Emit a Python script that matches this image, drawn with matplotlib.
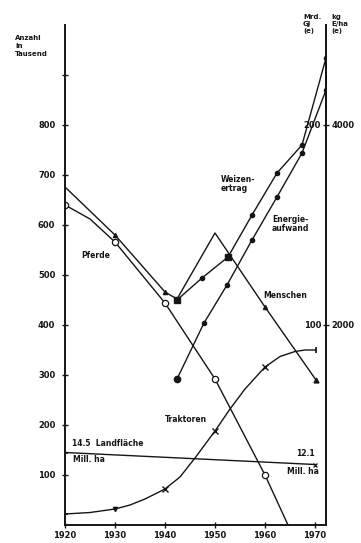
import matplotlib
matplotlib.use('Agg')
import matplotlib.pyplot as plt

# values in left-axis units (Anzahl in Tausend); right scales share the same grid
pferde_x = [1920, 1925, 1930, 1940, 1950, 1960, 1964.6]
pferde_y = [640, 612, 566, 444, 292, 100, 0]

menschen_x = [1920, 1930, 1940, 1942.4, 1950, 1960, 1970.2]
menschen_y = [676, 580, 466, 452, 584, 436, 290]

weizen_x = [1942.4, 1947.4, 1952.6, 1957.4, 1962.4, 1967.4, 1972.2]
weizen_y = [450, 494, 536, 620, 704, 760, 934]

energie_x = [1942.4, 1947.8, 1952.4, 1957.4, 1962.4, 1967.4, 1972.2]
energie_y = [292, 404, 480, 570, 656, 744, 870]

trakt_x = [1920, 1925, 1930, 1933, 1936, 1940, 1943, 1946, 1950, 1953,
           1956, 1960, 1963, 1966, 1968, 1970.2]
trakt_y = [22, 25, 32, 40, 52, 72, 96, 134, 188, 232,
           272, 316, 337, 347, 350, 350]
trakt_marks = [1940, 1950, 1960]

land_x = [1920, 1970]
land_y = [145, 121]   # 14.5 -> 12.1 Mill. ha

years = [1920, 1930, 1940, 1950, 1960, 1970]
left_ticks = [100, 200, 300, 400, 500, 600, 700, 800, 900]
left_labels = ['100', '200', '300', '400', '500', '600', '700', '800', '']

ink = '#151515'
fs = 5.5

fig = plt.figure(figsize=(3.61, 5.43), dpi=100)
ax = fig.add_axes([65 / 361, 18 / 543, 261 / 361, 500 / 543])
ax.set_xlim(1920, 1972.2)
ax.set_ylim(0, 1000)

ax.spines['top'].set_visible(False)
for side in ['left', 'right', 'bottom']:
    ax.spines[side].set_linewidth(1.4)
    ax.spines[side].set_color(ink)

ax.set_xticks(years)
ax.set_xticklabels(['1920', '1930', '1940', '1950', '1960', '1970'])
ax.set_yticks(left_ticks)
ax.set_yticklabels(left_labels)
ax.tick_params(axis='x', direction='inout', length=4, width=1, colors=ink,
               labelsize=fs + 0.5, pad=2)
ax.tick_params(axis='y', direction='inout', length=4, width=1, colors=ink,
               labelsize=fs + 0.5, pad=5)
for lab in ax.get_xticklabels() + ax.get_yticklabels():
    lab.set_fontweight('bold')

# right axis: two scales
ax2 = ax.twinx()
ax2.set_ylim(0, 1000)
ax2.set_yticks([400, 800])
ax2.set_yticklabels(['2000', '4000'])
ax2.tick_params(direction='inout', length=4, width=1, colors=ink,
                labelsize=fs + 0.5, pad=2)
for lab in ax2.get_yticklabels():
    lab.set_fontweight('bold')
for side in ['top', 'left', 'bottom']:
    ax2.spines[side].set_visible(False)
ax2.spines['right'].set_linewidth(1.4)
ax2.spines['right'].set_color(ink)
ax.text(1971.2, 400, '100', ha='right', va='center', fontsize=fs + 0.5,
        fontweight='bold', color=ink)
ax.text(1971.2, 800, '200', ha='right', va='center', fontsize=fs + 0.5,
        fontweight='bold', color=ink)

lw = 1.0
# Pferde
ax.plot(pferde_x, pferde_y, color=ink, lw=lw)
ax.plot([x for x in pferde_x if x % 10 == 0], [y for x, y in zip(pferde_x, pferde_y) if x % 10 == 0],
        'o', ms=4.5, mfc='white', mec=ink, mew=0.9)

# Menschen
ax.plot(menschen_x, menschen_y, color=ink, lw=lw)
ax.plot([menschen_x[1], menschen_x[2], menschen_x[5]],
        [menschen_y[1], menschen_y[2], menschen_y[5]],
        '^', ms=3, color=ink)
ax.plot(menschen_x[-1], menschen_y[-1], '^', ms=3.5, color=ink)

# Weizenertrag
ax.plot(weizen_x, weizen_y, color=ink, lw=lw, marker='o', ms=3, mfc=ink, mec=ink)
ax.plot([weizen_x[0], weizen_x[2]], [weizen_y[0], weizen_y[2]], 's', ms=4.5, color=ink)

# Energieaufwand
ax.plot(energie_x, energie_y, color=ink, lw=lw, marker='o', ms=3, mfc=ink, mec=ink)
ax.plot(energie_x[0], energie_y[0], 'o', ms=4.5, color=ink)

# Traktoren
ax.plot(trakt_x, trakt_y, color=ink, lw=lw)
ax.plot(trakt_marks, [trakt_y[trakt_x.index(x)] for x in trakt_marks], 'x',
        ms=4, mew=1.0, color=ink)
ax.plot(trakt_x[0], trakt_y[0], '_', ms=4, mew=1.2, color=ink)
ax.plot(trakt_x[2], trakt_y[2], 'v', ms=3, color=ink)
ax.plot(trakt_x[-1], trakt_y[-1], '|', ms=5, mew=1.2, color=ink)

# Landflaeche
ax.plot(land_x, land_y, color=ink, lw=lw)
ax.plot(land_x[0], land_y[0], '_', ms=4, mew=1.2, color=ink)
ax.plot(land_x[1], land_y[1], 'x', ms=3, mew=0.9, color=ink)

kw = dict(fontsize=fs, fontweight='bold', color=ink)
ax.text(1923.2, 540, 'Pferde', va='center', **kw)
ax.text(1951.2, 682, 'Weizen-\nertrag', va='center', linespacing=1.1, **kw)
ax.text(1961.4, 602, 'Energie-\naufwand', va='center', linespacing=1.1, **kw)
ax.text(1959.6, 460, 'Menschen', va='center', **kw)
ax.text(1940.0, 212, 'Traktoren', va='center', **kw)
ax.text(1921.4, 162, '14.5  Landfläche', va='center', **kw)
ax.text(1921.6, 130, 'Mill. ha', va='center', **kw)
ax.text(1970.0, 144, '12.1', ha='right', va='center', **kw)
ax.text(1964.4, 108, 'Mill. ha', va='center', **kw)

fig.text(15 / 361, 1 - 46 / 543, 'Anzahl\nin\nTausend', ha='left', va='center',
         linespacing=1.5, fontsize=fs - 0.5, fontweight='bold', color=ink)
fig.text(303 / 361, 1 - 24 / 543, 'Mrd.\nGJ\n(e)', ha='left', va='center',
         linespacing=1.2, fontsize=fs - 0.5, fontweight='bold', color=ink)
fig.text(331 / 361, 1 - 24 / 543, 'kg\nE/ha\n(e)', ha='left', va='center',
         linespacing=1.2, fontsize=fs - 0.5, fontweight='bold', color=ink)

fig.savefig('out.png', dpi=100)
